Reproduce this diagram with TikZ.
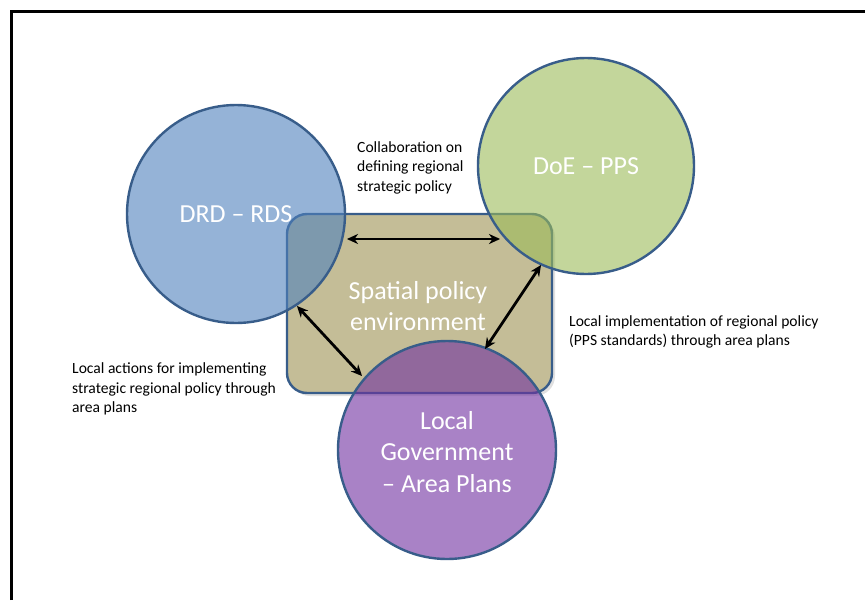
\documentclass[tikz,border=0pt]{standalone}
\usepackage{fontspec}
\setmainfont{Carlito}
\usetikzlibrary{arrows.meta}
\definecolor{outl}{HTML}{385D8A}
\definecolor{envfill}{HTML}{C4BD97}
\definecolor{blueF}{HTML}{4F81BD}
\definecolor{greenF}{HTML}{9BBB59}
\definecolor{purpleF}{HTML}{7030A0}
\tikzset{
  bubble/.style={circle, draw=outl, line width=2.4pt, fill opacity=0.6, inner sep=0pt, minimum size=#1},
  biglabel/.style={text=white, align=center, font=\fontsize{26}{31.5}\selectfont, inner sep=0pt},
  note/.style={anchor=west, align=left, inner sep=0pt, font=\fontsize{15.6}{19.5}\selectfont},
  link/.style={line width=2.7pt, {Stealth[length=11pt,width=10pt]}-{Stealth[length=11pt,width=10pt]}},
  linkshadow/.style={line width=2.7pt, draw=black, draw opacity=0.18, {Stealth[length=11pt,width=10pt]}-{Stealth[length=11pt,width=10pt]}}
}
\begin{document}
\begin{tikzpicture}[x=1pt,y=-1pt]
\useasboundingbox (0,0) rectangle (865,600);
\fill[white] (0,0) rectangle (865,600);
\draw[line width=3pt] (11,600) -- (11,11) -- (865,11);

% environment box (with soft shadow)
\fill[black, opacity=0.12, rounded corners=20pt] (290,217) rectangle (555,396);
\node[draw=outl, line width=2.4pt, fill=envfill, rounded corners=20pt,
      minimum width=265pt, minimum height=179pt, inner sep=0pt] (env) at (419.5,303.5) {};

% circles
\node[bubble=218pt, fill=blueF] (drd) at (236,214) {};
\node[bubble=216pt, fill=greenF] (doe) at (586,166) {};
\node[bubble=218pt, fill=purpleF] (lg) at (447,450) {};

% labels
\node[biglabel] (drdL) at (drd.center) {DRD -- RDS};
\node[biglabel] (doeL) at (doe.center) {DoE -- PPS};
\node[biglabel] (envL) at (418,306) {Spatial policy\\environment};
\node[biglabel] (lgL) at (447,452) {Local\\Government\\-- Area Plans};

% arrow end points
\coordinate (a1) at (347,239);
\coordinate (a2) at (500,239);
\coordinate (b1) at (541,265);
\coordinate (b2) at (485,349);
\coordinate (c1) at (297,306);
\coordinate (c2) at (362,376);

\begin{scope}[shift={(2,2)}]
\draw[linkshadow] (a1) -- (a2);
\draw[linkshadow] (b1) -- (b2);
\draw[linkshadow] (c1) -- (c2);
\end{scope}
\draw[link] (a1) -- (a2);
\draw[link] (b1) -- (b2);
\draw[link] (c1) -- (c2);

% notes
\node[note] (n1) at (357,167.5) {Collaboration on\\defining regional\\strategic policy};
\node[note] (n2) at (569,332) {Local implementation of regional policy\\(PPS standards) through area plans};
\node[note] (n3) at (72,389) {Local actions for implementing\\strategic regional policy through\\area plans};
\end{tikzpicture}
\end{document}
